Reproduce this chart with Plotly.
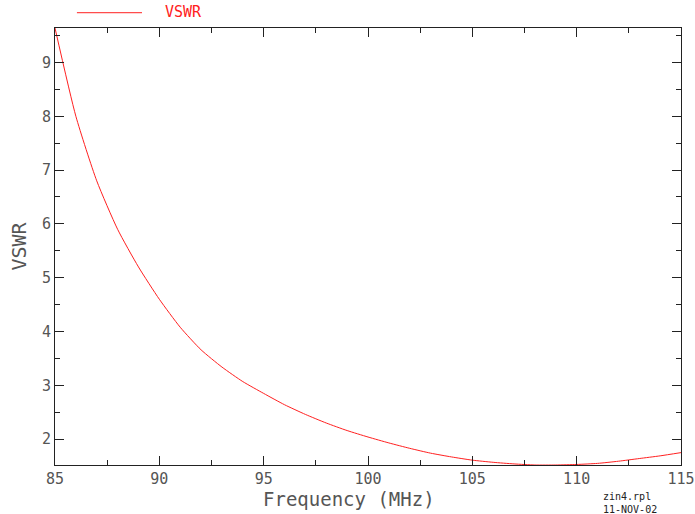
import plotly.graph_objects as go

freq_mhz = [85, 86, 87, 88, 89, 90, 91, 92, 93, 94, 95, 96, 97, 98, 99, 100,
            101, 102, 103, 104, 105, 106, 107, 108, 109, 110, 111, 112, 113, 114, 115]
vswr = [9.64, 8.00, 6.80, 5.90, 5.20, 4.60, 4.08, 3.66, 3.34, 3.07, 2.85, 2.64, 2.46,
        2.30, 2.16, 2.04, 1.93, 1.83, 1.74, 1.67, 1.61, 1.57, 1.54, 1.52, 1.52,
        1.53, 1.55, 1.59, 1.64, 1.69, 1.75]
series_name = "VSWR"
x_title = "Frequency (MHz)"
y_title = "VSWR"
stamp_lines = ["zin4.rpl", "11-NOV-02"]

MONO = "DejaVu Sans Mono"
RED = "#ff2020"
TXT = "#555555"

fig = go.Figure()
fig.add_trace(go.Scatter(x=freq_mhz, y=vswr, mode="lines", name=series_name,
                         line=dict(color=RED, width=1, shape="spline", smoothing=0.6),
                         showlegend=False))

axis_common = dict(
    showgrid=False, zeroline=False, showline=True, linecolor="#222222", linewidth=1,
    mirror="ticks", ticks="inside", tickcolor="#222222", tickwidth=1, ticklen=9,
    tickfont=dict(family=MONO, size=15, color=TXT),
)

fig.update_xaxes(range=[min(freq_mhz), max(freq_mhz)], dtick=5, tick0=85,
                 minor=dict(dtick=2.5, ticks="inside", ticklen=5, tickcolor="#222222"),
                 **axis_common)
fig.update_yaxes(range=[min(vswr), max(vswr)], dtick=1, tick0=0,
                 minor=dict(dtick=0.5, ticks="inside", ticklen=5, tickcolor="#222222"),
                 title=dict(text=y_title, font=dict(family=MONO, size=20, color=TXT), standoff=9),
                 **axis_common)

fig.update_layout(
    width=695, height=514,
    margin=dict(l=55, r=14, t=28, b=49, autoexpand=False),
    paper_bgcolor="white", plot_bgcolor="white",
    annotations=[
        dict(text=x_title, xref="paper", yref="paper", x=0.47, y=0, yshift=-34,
             xanchor="center", yanchor="middle", showarrow=False,
             font=dict(family=MONO, size=19, color=TXT)),
        dict(text=series_name, xref="paper", yref="paper", x=0.173, y=1, yshift=16,
             xanchor="left", yanchor="middle", showarrow=False,
             font=dict(family=MONO, size=15, color=RED)),
        dict(text="<br>".join(stamp_lines), xref="paper", yref="paper", x=0.872, y=0,
             yshift=-38, xanchor="left", yanchor="middle", showarrow=False, align="left",
             font=dict(family=MONO, size=10, color="#222222")),
    ],
    shapes=[dict(type="line", xref="paper", yref="paper", x0=0.035, x1=0.139,
                 y0=1.035, y1=1.035, line=dict(color=RED, width=1))],
)

fig.write_html("out.html", config={"displayModeBar": False},
               post_script="document.body.style.margin='0px';")
